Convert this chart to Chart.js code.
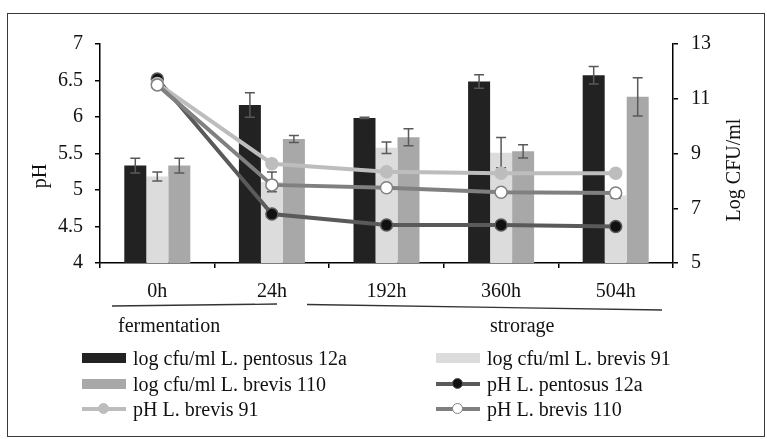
<!DOCTYPE html>
<html>
<head>
<script src="https://cdn.jsdelivr.net/npm/chart.js@4.4.0/dist/chart.umd.min.js"></script>
<style>
  body { margin: 0; background: #fff; font-family: "Liberation Serif", "Times New Roman", serif; }
  /* outer frame round the figure */
  .frame { position: absolute; left: 7px; top: 13px; width: 758px; height: 424px; border: 1.5px solid #3a3a3a; box-sizing: border-box; }
  .chart-box { position: absolute; left: 0; top: 0; width: 767px; height: 320px; }
  .txt { position: absolute; font-size: 20px; color: #111; white-space: nowrap; line-height: 20px; }
  .rot { transform: translate(-50%, -50%) rotate(-90deg); }
  .swatch { position: absolute; }
  svg { position: absolute; left: 0; top: 0; }
</style>
</head>
<body>
<div class="frame"></div>
<div class="chart-box"><canvas id="myChart"></canvas></div>
<svg width="767" height="439">
  <!-- brackets under the time axis -->
  <line x1="112" y1="306" x2="277" y2="304" stroke="#333" stroke-width="1.3"/>
  <line x1="307" y1="304.5" x2="662" y2="310" stroke="#333" stroke-width="1.3"/>
</svg>
<div class="txt rot" style="left:39px; top:176px;">pH</div>
<div class="txt rot" style="left:733px; top:170px;">Log CFU/ml</div>
<div class="txt" style="left:118px; top:315px;">fermentation</div>
<div class="txt" style="left:490px; top:315px;">strorage</div>
<div id="legend"></div>

<script>
  var timePoints = ["0h", "24h", "192h", "360h", "504h"];

  // log CFU/ml (right axis) with error values
  var cfuPentosus12a = [8.56, 10.77, 10.30, 11.63, 11.86];
  var cfuPentosus12aErr = [0.27, 0.45, 0.02, 0.25, 0.32];
  var cfuBrevis91 = [8.16, 7.96, 9.21, 9.03, 7.47];
  var cfuBrevis91Err = [0.16, 0.36, 0.21, 0.55, 0.10];
  var cfuBrevis110 = [8.56, 9.53, 9.59, 9.08, 11.07];
  var cfuBrevis110Err = [0.27, 0.13, 0.31, 0.24, 0.70];

  // pH (left axis)
  var phPentosus12a = [6.52, 4.67, 4.52, 4.52, 4.50];
  var phBrevis91 = [6.46, 5.36, 5.25, 5.23, 5.23];
  var phBrevis110 = [6.44, 5.07, 5.03, 4.97, 4.96];

  Chart.defaults.font.family = '"Liberation Serif", "Times New Roman", serif';
  Chart.defaults.font.size = 20;
  Chart.defaults.color = "#111";

  // draws error bars right after each bar dataset, so lines end up on top
  var errorBars = {
    id: "errorBars",
    afterDatasetDraw: function (chart, args) {
      var ds = chart.data.datasets[args.index];
      if (!ds.errors) return;
      var scale = chart.scales[ds.yAxisID];
      var c = chart.ctx;
      c.save();
      c.strokeStyle = "#595959";
      c.lineWidth = 1.5;
      args.meta.data.forEach(function (bar, i) {
        var v = ds.data[i], e = ds.errors[i];
        var top = scale.getPixelForValue(v + e);
        var bot = scale.getPixelForValue(v - e);
        c.beginPath();
        c.moveTo(bar.x, top); c.lineTo(bar.x, bot);
        c.moveTo(bar.x - 5, top); c.lineTo(bar.x + 5, top);
        c.moveTo(bar.x - 5, bot); c.lineTo(bar.x + 5, bot);
        c.stroke();
      });
      c.restore();
    }
  };

  var barOpts = { yAxisID: "y2", order: 10, categoryPercentage: 0.576, barPercentage: 1.0, borderWidth: 0 };
  function lineOpts(color, pointFill, order) {
    return {
      type: "line", yAxisID: "y", order: order,
      borderColor: color, borderWidth: 4,
      pointRadius: 6, pointBorderWidth: 1.5,
      pointBackgroundColor: pointFill, pointBorderColor: color
    };
  }

  var datasets = [
    Object.assign({ label: "log cfu/ml L. pentosus 12a", data: cfuPentosus12a, errors: cfuPentosus12aErr, backgroundColor: "#222222" }, barOpts),
    Object.assign({ label: "log cfu/ml L. brevis 91", data: cfuBrevis91, errors: cfuBrevis91Err, backgroundColor: "#dcdcdc" }, barOpts),
    Object.assign({ label: "log cfu/ml L. brevis 110", data: cfuBrevis110, errors: cfuBrevis110Err, backgroundColor: "#a8a8a8" }, barOpts),
    Object.assign({ label: "pH L. pentosus 12a", data: phPentosus12a }, lineOpts("#5a5a5a", "#111111", 3)),
    Object.assign({ label: "pH L. brevis 91", data: phBrevis91 }, lineOpts("#bdbdbd", "#bdbdbd", 2)),
    Object.assign({ label: "pH L. brevis 110", data: phBrevis110 }, lineOpts("#808080", "#ffffff", 1))
  ];

  var axisGrid = { drawOnChartArea: false, drawTicks: true, tickLength: 5, color: "#000", lineWidth: 1.5 };
  var axisBorder = { color: "#000", width: 1.5 };

  var ctx = document.getElementById("myChart").getContext("2d");
  var chart = new Chart(ctx, {
    type: "bar",
    data: { labels: timePoints, datasets: datasets },
    plugins: [errorBars],
    options: {
      responsive: true,
      maintainAspectRatio: false,
      animation: false,
      layout: { padding: { left: 0, right: 0, top: 44, bottom: 0 } },
      plugins: { legend: { display: false }, tooltip: { enabled: false } },
      scales: {
        x: {
          grid: Object.assign({ offset: true }, axisGrid),
          border: axisBorder,
          ticks: { padding: 12 },
          afterFit: function (s) { s.height = 57; }
        },
        y: {
          position: "left", min: 4, max: 7,
          grid: axisGrid, border: axisBorder,
          ticks: { stepSize: 0.5, padding: 12, callback: function (v) { return String(v); } },
          afterFit: function (s) { s.width = 100; }
        },
        y2: {
          position: "right", min: 5, max: 13,
          grid: axisGrid, border: axisBorder,
          ticks: { stepSize: 2, padding: 13 },
          afterFit: function (s) { s.width = 94; }
        }
      }
    }
  });

  // legend, two columns, row-major in dataset order
  var legend = document.getElementById("legend");
  var colX = [82, 436];
  var rowY = [358, 384, 409];
  chart.data.datasets.forEach(function (ds, i) {
    var x = colX[i % 2], y = rowY[Math.floor(i / 2)];
    if (ds.type === "line") {
      var ln = document.createElement("div");
      ln.className = "swatch";
      ln.style.cssText = "left:" + x + "px;top:" + (y - 2) + "px;width:44px;height:4px;background:" + ds.borderColor + ";";
      legend.appendChild(ln);
      var dot = document.createElement("div");
      dot.className = "swatch";
      dot.style.cssText = "left:" + (x + 16) + "px;top:" + (y - 6) + "px;width:9px;height:9px;border-radius:50%;border:1.5px solid " + ds.borderColor + ";background:" + ds.pointBackgroundColor + ";";
      legend.appendChild(dot);
    } else {
      var box = document.createElement("div");
      box.className = "swatch";
      box.style.cssText = "left:" + x + "px;top:" + (y - 5) + "px;width:44px;height:10px;background:" + ds.backgroundColor + ";";
      legend.appendChild(box);
    }
    var t = document.createElement("div");
    t.className = "txt";
    t.style.left = (x + 51) + "px";
    t.style.top = (y - 10) + "px";
    t.textContent = ds.label;
    legend.appendChild(t);
  });
</script>
</body>
</html>
